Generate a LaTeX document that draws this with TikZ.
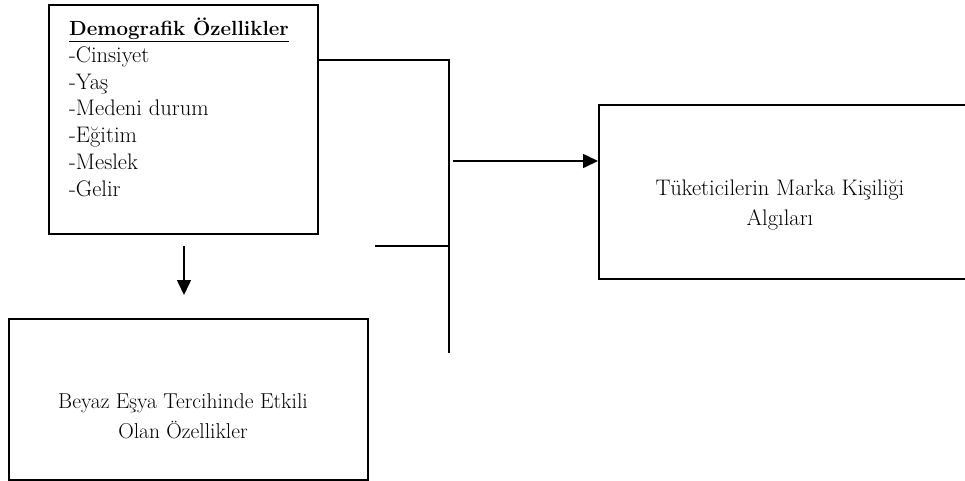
\documentclass[tikz,border=0pt]{standalone}
\usetikzlibrary{arrows.meta,positioning}
\tikzset{
  kutu/.style={draw=black, line width=1.6pt, inner sep=0pt, anchor=north west},
  baglanti/.style={line width=1.6pt},
  ok/.style={baglanti, -{Triangle[length=15pt,width=14pt]}},
  yazi/.style={inner sep=0pt, font=\fontsize{22.5}{30}\selectfont}
}
\begin{document}
\begin{tikzpicture}[x=1pt,y=-1pt]
  \useasboundingbox (0,0) rectangle (965,480);
  % kutular
  \node [kutu, minimum width=269pt, minimum height=229pt] (demo) at (48,4) {};
  \node [kutu, minimum width=359pt, minimum height=161pt] (beyaz) at (8,318) {};
  \node [kutu, minimum width=380pt, minimum height=174pt] (algi) at (598,104) {};
  \node [yazi, anchor=north west, align=left, font=\fontsize{22.5}{26.7}\selectfont] (demoyazi) at (69,18)
    {{\fontsize{20.5}{26.7}\selectfont\textbf{\underline{Demografik Özellikler}}}\\-Cinsiyet\\-Yaş\\-Medeni durum\\-Eğitim\\-Meslek\\-Gelir};
  \node [yazi, align=center, font=\fontsize{21.5}{30}\selectfont] (beyazyazi) at (183,416) {Beyaz Eşya Tercihinde Etkili\\Olan Özellikler};
  \node [yazi, align=center] (algiyazi) at (780,205) {Tüketicilerin Marka Kişiliği\\Algıları};
  % baglantilar
  \coordinate (ust) at (449,60);
  \coordinate (alt) at (449,353);
  \coordinate (kol) at (375,246);
  \coordinate (okbas) at (453,161);
  \coordinate (asagi) at (184,246);
  \coordinate (asagison) at (184,295);
  \draw [baglanti] (demo.east |- ust) -- (ust) -- (alt);
  \draw [baglanti] (kol) -- (kol -| ust);
  \draw [ok] (okbas) -- (okbas -| algi.west);
  \draw [ok] (asagi) -- (asagison);
\end{tikzpicture}
\end{document}
